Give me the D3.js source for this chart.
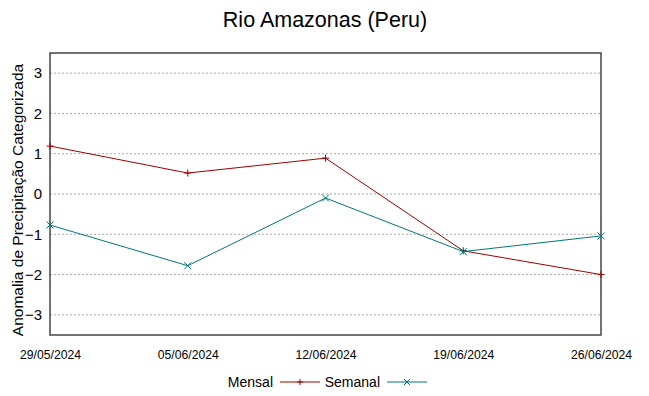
<!DOCTYPE html>
<html>
<head>
<meta charset="utf-8">
<script src="https://cdn.jsdelivr.net/npm/d3@7"></script>
<style>
  body { margin: 0; background: #fff; }
  svg { font-family: "Liberation Sans", Arial, sans-serif; }
</style>
</head>
<body>
<svg id="chart" width="649" height="396"></svg>
<script>
'use strict';
const DATES = ['29/05/2024', '05/06/2024', '12/06/2024', '19/06/2024', '26/06/2024'];
const MENSAL = [1.19, 0.52, 0.89, -1.41, -2.0];
const SEMANAL = [-0.77, -1.78, -0.1, -1.43, -1.04];
const Y_TICKS = [-3, -2, -1, 0, 1, 2, 3];
const SERIES = [
  { name: 'Mensal', values: MENSAL, color: '#a00000', symbol: 'plus' },
  { name: 'Semanal', values: SEMANAL, color: '#007878', symbol: 'cross' },
];

let svg = d3.select('#chart');
let margin = { top: 53, right: 48, bottom: 61, left: 50 },
  width = 649 - margin.left - margin.right,
  height = 396 - margin.top - margin.bottom;

let x = d3.scalePoint().domain(DATES).range([0, width]);
let y = d3.scaleLinear().domain([-3.5, 3.5]).range([height, 0]);

let g = svg.append('g').attr('transform', `translate(${margin.left},${margin.top})`);

// title
svg.append('text')
  .attr('x', 325).attr('y', 27)
  .attr('text-anchor', 'middle')
  .attr('font-size', 21.5)
  .text('Rio Amazonas (Peru)');

// horizontal grid
g.append('g')
  .selectAll('line')
  .data(Y_TICKS)
  .enter()
  .append('line')
  .attr('x1', 0).attr('x2', width)
  .attr('y1', (d) => y(d)).attr('y2', (d) => y(d))
  .attr('stroke', '#aaa')
  .attr('stroke-dasharray', '2,2');

// y axis labels
g.append('g')
  .call(d3.axisLeft(y).tickValues(Y_TICKS).tickFormat(d3.format('d')).tickSize(0).tickPadding(8))
  .call((a) => a.select('.domain').remove())
  .call((a) => a.selectAll('.tick text')
    .attr('font-size', 15)
    .attr('font-family', '"Liberation Sans", Arial, sans-serif')
    .attr('fill', '#000'));

// x axis labels
g.append('g')
  .attr('transform', `translate(0,${height})`)
  .call(d3.axisBottom(x).tickSize(0).tickPadding(15))
  .call((a) => a.select('.domain').remove())
  .call((a) => a.selectAll('.tick text')
    .attr('font-size', 12.5)
    .attr('textLength', 61)
    .attr('lengthAdjust', 'spacingAndGlyphs')
    .attr('font-family', '"Liberation Sans", Arial, sans-serif')
    .attr('fill', '#000'));

// frame
g.append('rect')
  .attr('width', width).attr('height', height)
  .attr('fill', 'none')
  .attr('stroke', '#444')
  .attr('stroke-width', 1.5);

// y label
svg.append('text')
  .attr('transform', `translate(23,${margin.top + height / 2 + 6}) rotate(-90)`)
  .attr('text-anchor', 'middle')
  .attr('font-size', 15.5)
  .text('Anomalia de Precipitação Categorizada');

function symbolPath(type, cx, cy, s) {
  if (type === 'plus') {
    return `M${cx - s},${cy}H${cx + s}M${cx},${cy - s}V${cy + s}`;
  }
  return `M${cx - s},${cy - s}L${cx + s},${cy + s}M${cx - s},${cy + s}L${cx + s},${cy - s}`;
}

let line = d3.line()
  .x((d, i) => x(DATES[i]))
  .y((d) => y(d));

SERIES.forEach((s) => {
  g.append('path')
    .datum(s.values)
    .attr('fill', 'none')
    .attr('stroke', s.color)
    .attr('stroke-width', 1)
    .attr('d', line);
  g.append('path')
    .attr('fill', 'none')
    .attr('stroke', s.color)
    .attr('d', s.values.map((v, i) => symbolPath(s.symbol, x(DATES[i]), y(v), 3.5)).join(''));
});

// legend
let legend = svg.append('g').attr('transform', 'translate(0,382)');
let lx = [273, 380];
SERIES.forEach((s, i) => {
  legend.append('text')
    .attr('x', lx[i]).attr('y', 5)
    .attr('text-anchor', 'end')
    .attr('font-size', 14)
    .text(s.name);
  legend.append('line')
    .attr('x1', lx[i] + 7).attr('x2', lx[i] + 47)
    .attr('y1', 0).attr('y2', 0)
    .attr('stroke', s.color);
  legend.append('path')
    .attr('fill', 'none')
    .attr('stroke', s.color)
    .attr('d', symbolPath(s.symbol, lx[i] + 27, 0, 3));
});
</script>
</body>
</html>
